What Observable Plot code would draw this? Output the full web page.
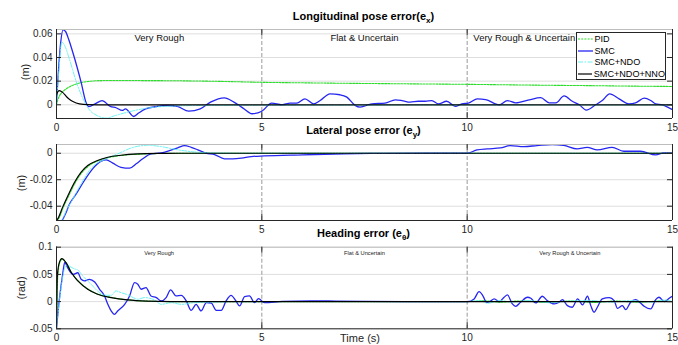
<!DOCTYPE html>
<html><head><meta charset="utf-8">
<script src="https://cdn.jsdelivr.net/npm/d3@7"></script>
<script src="https://cdn.jsdelivr.net/npm/@observablehq/plot@0.6"></script>
<style>
body{margin:0;background:#fff;}
#wrap{position:relative;width:678px;height:345px;font-family:"Liberation Sans",Arial,sans-serif;overflow:hidden;background:#fff;}
.panel{position:absolute;left:0;}
.title{position:absolute;font-weight:bold;font-size:11px;color:#000;transform:translate(-50%,-50%);white-space:nowrap;}
.title sub{font-size:8px;vertical-align:-3px;line-height:0;}
.ylab{position:absolute;font-size:11px;color:#262626;transform:translate(-50%,-50%) rotate(-90deg);white-space:nowrap;}
.xlab{position:absolute;font-size:11px;color:#262626;transform:translate(-50%,-50%);white-space:nowrap;}
#legend{position:absolute;left:576px;top:32px;width:90px;height:48px;border:1px solid #262626;background:#fff;box-sizing:border-box;padding-top:0px;}
.lrow{display:flex;align-items:center;height:11.7px;font-size:9.1px;color:#000;}
.lrow svg{margin-left:1px;margin-right:1.5px;}
</style>
</head><body>
<div id="wrap"></div>
<script>
// ---------- data ----------
const seriesNames = ["PID", "SMC", "SMC+NDO", "SMC+NDO+NNO"];
const seriesColors = ["#2bdc2b", "#2626f2", "#5ff0f0", "#000000"];
const seriesDash = ["2,1.2", null, "5,1.5,1.5,1.5", null];
const seriesWidth = [1.1, 1.3, 0.9, 1.2];

const xTicks = [0, 5, 10, 15];
const regionBounds = [5, 10];
const regionNames = ["Very Rough", "Flat & Uncertain", "Very Rough & Uncertain"];

const exTicks = [0, 0.02, 0.04, 0.06];
const eyTicks = [-0.04, -0.02, 0];
const ethTicks = [-0.05, 0, 0.05, 0.1];

// Longitudinal pose error e_x  [time (s), value (m)]
const exPID = [[0,0],[0.03,0.004],[0.08,0.008],[0.15,0.011],[0.25,0.0138],[0.36,0.016],[0.5,0.0178],[0.6,0.0188],[0.8,0.0198],[1.0,0.0204],[1.5,0.0206],[2,0.0205],[3,0.0203],[4,0.0198],[5,0.019],[6,0.0186],[7,0.0182],[8,0.0179],[9,0.0176],[10,0.0173],[11,0.0169],[12,0.0165],[13,0.0162],[14,0.0158],[15,0.0155]];
const exSMC = [[0,0.002],[0.05,0.03],[0.1,0.052],[0.16,0.0634],[0.22,0.062],[0.3,0.055],[0.4,0.044],[0.5,0.032],[0.6,0.019],[0.72,0.002],[0.79,-0.0015],[0.95,0.001],[1.11,0.0036],[1.31,-0.0014],[1.45,-0.0025],[1.6,-0.0048],[1.68,-0.0035],[1.88,-0.0099],[2.0,-0.007],[2.17,-0.0035],[2.45,-0.0014],[2.7,-0.0006],[2.94,-0.0014],[3.22,-0.0054],[3.5,-0.0035],[3.75,0.0022],[4.09,0.0059],[4.32,0.0022],[4.55,-0.003],[4.76,-0.0076],[5.0,-0.0055],[5.24,0.0014],[5.49,0],[5.69,0.0014],[5.85,0.0014],[6.05,0.005],[6.26,0.0008],[6.42,0.0036],[6.66,0.0093],[6.9,0.0085],[7.07,0.0065],[7.27,-0.0005],[7.39,-0.002],[7.68,0.0008],[8.0,0.0014],[8.25,0.0042],[8.41,0.0036],[8.61,0.0022],[8.81,0.003],[8.98,0.003],[9.14,0.0036],[9.3,0.0008],[9.5,0.003],[9.71,-0.0014],[9.87,0.0008],[10.03,0.0014],[10.25,0.005],[10.45,0.0044],[10.78,0],[10.98,0.0036],[11.18,0.0016],[11.51,0.0042],[11.79,0.006],[12.0,0.0016],[12.16,0.0016],[12.36,0.0075],[12.56,0.003],[12.73,0],[12.9,-0.0045],[13.13,0],[13.29,0.0036],[13.47,0.0093],[13.7,0.005],[13.94,0.0008],[14.1,0.0016],[14.31,0.0056],[14.47,0.0036],[14.59,0.0008],[14.75,0],[14.96,-0.0034],[15,-0.004]];
const exNDO = [[0,0],[0.05,0.025],[0.13,0.053],[0.2,0.05],[0.32,0.038],[0.48,0.0197],[0.64,0.0056],[0.8,-0.0042],[1.0,-0.0093],[1.21,-0.0113],[1.41,-0.0093],[1.7,-0.0065],[2.06,-0.0037],[2.39,-0.002],[2.87,-0.001],[3.5,-0.0006],[5,-0.0004],[7,-0.0003],[10,-0.0002],[15,-0.0002]];
const exNNO = [[0,0.008],[0.03,0.011],[0.07,0.012],[0.15,0.0105],[0.24,0.007],[0.32,0.0045],[0.4,0.0028],[0.56,0.0008],[0.76,0.0001],[1,0],[15,0]];

// Lateral pose error e_y
const eyPID = [[0,-0.0508],[0.05,-0.0495],[0.17,-0.0405],[0.3,-0.032],[0.46,-0.022],[0.62,-0.0145],[0.8,-0.0092],[1.05,-0.0053],[1.3,-0.003],[1.6,-0.0016],[2.0,-0.0007],[2.5,-0.0002],[3,0],[15,0]];
const eySMC = [[0,-0.0508],[0.11,-0.0513],[0.2,-0.047],[0.32,-0.0382],[0.48,-0.0307],[0.68,-0.0206],[0.88,-0.0118],[1.09,-0.006],[1.21,-0.005],[1.37,-0.0075],[1.57,-0.0106],[1.78,-0.0113],[1.94,-0.008],[2.1,-0.0042],[2.3,-0.0005],[2.55,0.0003],[2.75,0.002],[2.95,0.004],[3.12,0.0058],[3.28,0.0045],[3.44,0.0026],[3.64,0],[3.85,-0.001],[4.09,-0.0042],[4.29,-0.0042],[4.5,-0.0037],[4.74,-0.0025],[5.06,-0.002],[6,-0.0012],[7,-0.0004],[8,-0.0001],[9,0],[10,0],[10.24,0.0025],[10.49,0.0033],[10.81,0.004],[11.05,0.0058],[11.38,0.005],[11.7,0.0058],[12.07,0.0066],[12.35,0.006],[12.68,0.0033],[12.92,0.0045],[13.17,0.0025],[13.53,0.0045],[13.81,0.0015],[14.22,0.0015],[14.59,-0.0013],[14.79,0.0003],[15,0]];
const eyNDO = [[0,-0.0508],[0.11,-0.0508],[0.24,-0.0432],[0.4,-0.0344],[0.6,-0.0231],[0.8,-0.013],[1.0,-0.0073],[1.17,-0.0048],[1.33,-0.0025],[1.49,-0.0005],[1.82,0.004],[2.22,0.006],[2.55,0.005],[2.95,0.0026],[3.36,0.001],[3.8,0.0002],[4.5,0],[15,0]];
const eyNNO = [[0,-0.0508],[0.03,-0.0496],[0.15,-0.0407],[0.28,-0.0319],[0.44,-0.0219],[0.6,-0.0143],[0.76,-0.0093],[1.0,-0.0055],[1.25,-0.003],[1.57,-0.0015],[1.98,-0.0005],[2.5,-0.0001],[3,0],[15,0]];

// Heading error e_theta
const ethPID = [[0,-0.048],[0.03,0.045],[0.08,0.072],[0.14,0.078],[0.25,0.07],[0.37,0.053],[0.53,0.038],[0.78,0.0225],[1.02,0.0135],[1.35,0.0074],[1.75,0.003],[2.2,0.0008],[2.8,0],[10,0],[10.4,0.0015],[10.8,-0.001],[11.3,0.0012],[11.9,-0.0012],[12.5,0.001],[13.1,-0.0015],[13.6,0.001],[14.2,-0.001],[14.7,0.0012],[15,0]];
const ethSMC = [[0,-0.048],[0.07,0.004],[0.15,0.05],[0.2,0.072],[0.27,0.0626],[0.4,0.05],[0.52,0.053],[0.6,0.041],[0.68,0.038],[0.8,0.041],[0.93,0.036],[1.05,0.0227],[1.17,0.0104],[1.25,-0.005],[1.33,-0.0172],[1.41,-0.0233],[1.49,-0.0172],[1.66,-0.005],[1.78,0.0104],[1.9,0.035],[1.98,0.032],[2.06,0.0227],[2.18,0.0258],[2.3,0.0104],[2.43,0.0074],[2.55,0.0012],[2.67,0.0074],[2.78,0.0215],[2.91,0.0104],[3.04,0.0116],[3.16,0.0012],[3.28,-0.016],[3.4,-0.005],[3.52,-0.0172],[3.65,-0.002],[3.77,-0.003],[3.89,-0.016],[4.01,-0.016],[4.13,0.0012],[4.25,0.0116],[4.37,0.0012],[4.46,-0.008],[4.58,0.0092],[4.7,0.0104],[4.82,-0.002],[4.92,0.0055],[5.06,-0.002],[5.5,0.0005],[6.2,0.0015],[6.8,0.001],[7.5,0.0003],[8.5,0],[10.01,0],[10.17,0.005],[10.29,0.0184],[10.39,0.0098],[10.47,-0.0012],[10.55,0],[10.66,0.005],[10.78,0],[10.9,0.008],[10.98,0.0123],[11.1,-0.0043],[11.18,-0.0086],[11.3,-0.0012],[11.47,0.008],[11.55,0.0061],[11.67,-0.0025],[11.83,0.0098],[11.95,0.0018],[12.12,-0.0043],[12.24,-0.0012],[12.32,0.0037],[12.44,-0.0074],[12.56,-0.0104],[12.69,0.005],[12.81,-0.0061],[12.93,0.0098],[13.01,-0.0074],[13.09,-0.0196],[13.17,-0.0104],[13.29,0.005],[13.46,0.0074],[13.58,0.0018],[13.66,-0.0123],[13.78,-0.0074],[13.86,-0.0147],[13.98,-0.0012],[14.1,0.0037],[14.22,-0.0025],[14.31,-0.0086],[14.47,-0.0135],[14.59,0.0037],[14.67,0.008],[14.8,0],[14.92,0.0061],[15,0.0098]];
const ethNDO = [[0,-0.048],[0.07,0.0],[0.15,0.045],[0.24,0.067],[0.44,0.06],[0.52,0.058],[0.64,0.047],[0.84,0.032],[1.0,0.0196],[1.17,0.0116],[1.33,0.0116],[1.45,0.0196],[1.57,0.0165],[1.7,0.0135],[1.82,0.0092],[1.98,0.0043],[2.14,0.0074],[2.39,0.003],[2.55,-0.005],[2.79,-0.002],[3.04,-0.005],[3.36,-0.002],[3.8,-0.001],[4.3,0],[10,0],[10.3,0.002],[10.5,-0.003],[10.8,0.002],[11.1,-0.001],[11.5,0.002],[12,-0.002],[12.5,0.001],[13,0.002],[13.5,-0.001],[14,0.002],[14.5,-0.001],[14.8,0.003],[15,0]];
const ethNNO = [[0,-0.048],[0.02,0.047],[0.07,0.072],[0.13,0.079],[0.24,0.0706],[0.36,0.0534],[0.52,0.038],[0.76,0.0227],[1.0,0.0135],[1.33,0.0074],[1.73,0.003],[2.2,0.0008],[2.8,0],[15,0]];

// ---------- drawing ----------
const W = 678, ML = 56, MR = 6;
const FONT = '"Liberation Sans", Arial, sans-serif';
const fmt = d => String(Math.round(d * 1000) / 1000);

function panel({top, height, mt, mb, yDomain, yTicks, series, labels}) {
  const fw = W - ML - MR, fh = height - mt - mb;
  const lines = series.map((s, i) => Plot.line(s, {
    x: d => d[0], y: d => d[1], stroke: seriesColors[i], strokeWidth: seriesWidth[i],
    strokeDasharray: seriesDash[i] || undefined, curve: "monotone-x", clip: true
  }));
  const svg = Plot.plot({
    width: W, height, marginLeft: ML, marginRight: MR, marginTop: mt, marginBottom: mb,
    style: {fontFamily: FONT, fontSize: "10px", color: "#262626", background: "transparent", overflow: "visible"},
    x: {domain: [0, 15], ticks: xTicks, tickSize: 0, tickPadding: 5, label: null, tickFormat: fmt},
    y: {domain: yDomain, ticks: yTicks, tickSize: 0, tickPadding: 4, label: null, tickFormat: fmt},
    marks: [
      Plot.ruleY(yTicks, {y: d => d, stroke: "#dedede", strokeWidth: 1}),
      Plot.ruleX(regionBounds, {x: d => d, stroke: "#9a9a9a", strokeDasharray: "4,2"}),
      ...(labels ? [labels] : []),
      ...lines,
      Plot.ruleY([yDomain[1]], {y: d => d, stroke: "#bdbdbd"}),
      Plot.ruleX([0, 15], {x: d => d, stroke: "#262626"}),
      Plot.ruleY([yDomain[0]], {y: d => d, stroke: "#262626"}),
      Plot.tickY(yTicks, {y: d => d, stroke: "#262626", insetRight: fw - 5}),
      Plot.tickY(yTicks, {y: d => d, stroke: "#262626", insetLeft: fw - 5}),
      Plot.tickX(xTicks, {x: d => d, stroke: "#262626", insetTop: fh - 6}),
      Plot.tickX(xTicks, {x: d => d, stroke: "#262626", insetBottom: fh - 6})
    ]
  });
  svg.classList.add("panel");
  svg.style.top = top + "px";
  return svg;
}

const wrap = document.getElementById("wrap");

wrap.appendChild(panel({
  top: 0, height: 135, mt: 29, mb: 17, yDomain: [-0.0116, 0.0637], yTicks: exTicks,
  series: [exPID, exSMC, exNDO, exNNO],
  labels: Plot.text(regionNames, {x: [1.9, 6.67, 10.15], y: [0.0566, 0.0566, 0.0566], text: d => d, textAnchor: "start", fontSize: 9.5, fill: "#111"})
}));
wrap.appendChild(panel({
  top: 135, height: 103, mt: 9, mb: 18, yDomain: [-0.0508, 0.0066], yTicks: eyTicks,
  series: [eyPID, eySMC, eyNDO, eyNNO]
}));
wrap.appendChild(panel({
  top: 238, height: 107, mt: 8.7, mb: 16.7, yDomain: [-0.05, 0.1], yTicks: ethTicks,
  series: [ethPID, ethSMC, ethNDO, ethNNO],
  labels: Plot.text(regionNames, {x: [2.5, 7.5, 12.5], y: [0.0897, 0.0897, 0.0897], text: d => d, textAnchor: "middle", fontSize: 5.7, fill: "#222"})
}));

function addDiv(cls, html, x, y) {
  const d = document.createElement("div");
  d.className = cls; d.innerHTML = html;
  d.style.left = x + "px"; d.style.top = y + "px";
  wrap.appendChild(d);
}
addDiv("title", "Longitudinal pose error(e<sub>x</sub>)", 363.5, 16);
addDiv("title", "Lateral pose error (e<sub>y</sub>)", 363.5, 130);
addDiv("title", "Heading error (e<sub>&theta;</sub>)", 363.5, 232.5);
addDiv("ylab", "(m)", 25, 72);
addDiv("ylab", "(m)", 21, 183);
addDiv("ylab", "(rad)", 21, 287.5);
addDiv("xlab", "Time (s)", 360, 337.5);

// legend
const lg = document.createElement("div");
lg.id = "legend";
seriesNames.forEach((n, i) => {
  const row = document.createElement("div");
  row.className = "lrow";
  row.innerHTML = `<svg width="15" height="4"><line x1="0" x2="15" y1="2" y2="2" stroke="${seriesColors[i]}" stroke-width="${seriesWidth[i]}" ${seriesDash[i] ? `stroke-dasharray="${seriesDash[i]}"` : ""}/></svg><span>${n}</span>`;
  lg.appendChild(row);
});
wrap.appendChild(lg);
</script>
</body></html>
